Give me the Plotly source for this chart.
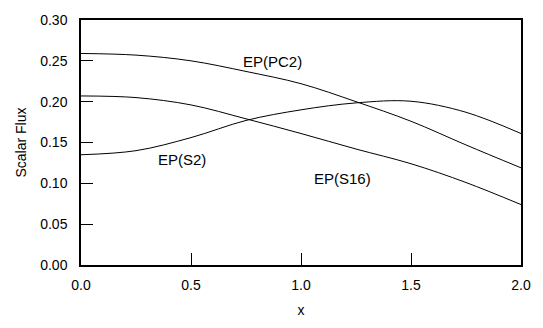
import plotly.graph_objects as go

x = [0.0, 0.25, 0.5, 0.75, 1.0, 1.25, 1.5, 1.75, 2.0]
pc2 = [0.259, 0.257, 0.250, 0.237, 0.222, 0.200, 0.176, 0.147, 0.119]
s16 = [0.207, 0.205, 0.196, 0.179, 0.161, 0.142, 0.124, 0.101, 0.074]
s2 = [0.135, 0.140, 0.156, 0.177, 0.190, 0.1985, 0.2005, 0.187, 0.161]

x_ticks = [0.0, 0.5, 1.0, 1.5, 2.0]
y_ticks = [0.00, 0.05, 0.10, 0.15, 0.20, 0.25, 0.30]

labels = ["EP(PC2)", "EP(S2)", "EP(S16)"]
label_x = [0.87, 0.46, 1.19]
label_y = [0.249, 0.129, 0.106]

fig = go.Figure()
for ys in (pc2, s16, s2):
    fig.add_trace(go.Scatter(x=x, y=ys, mode="lines", line=dict(color="black", width=1, shape="spline"),
                             showlegend=False, hoverinfo="skip"))

for t, lx, ly in zip(labels, label_x, label_y):
    fig.add_annotation(x=lx, y=ly, text=t, showarrow=False, font=dict(size=15, color="black"))

axis_common = dict(showline=True, linecolor="black", linewidth=1.5, mirror=True, ticks="inside",
                   ticklen=12, tickcolor="black", tickwidth=1, showgrid=False, zeroline=False,
                   tickfont=dict(size=14, color="black"))

fig.update_xaxes(range=[0, 2.0], tickvals=x_ticks, ticktext=[f"{v:.1f}" for v in x_ticks], ticklabelstandoff=6,
                 title=dict(text="x", font=dict(size=14, color="black"), standoff=14), **axis_common)
fig.update_yaxes(range=[0, 0.30], tickvals=y_ticks, ticktext=[f"{v:.2f}" for v in y_ticks], ticklabelstandoff=9,
                 title=dict(text="Scalar Flux", font=dict(size=14, color="black"), standoff=10), **axis_common)

fig.update_layout(width=543, height=328, margin=dict(l=81, r=21, t=14, b=54),
                  paper_bgcolor="white", plot_bgcolor="white",
                  font=dict(family="Liberation Sans, Arial, sans-serif", color="black"))

fig.write_html("out.html", config={"displayModeBar": False},
               post_script="document.body.style.margin='0';document.body.style.overflow='hidden';")
